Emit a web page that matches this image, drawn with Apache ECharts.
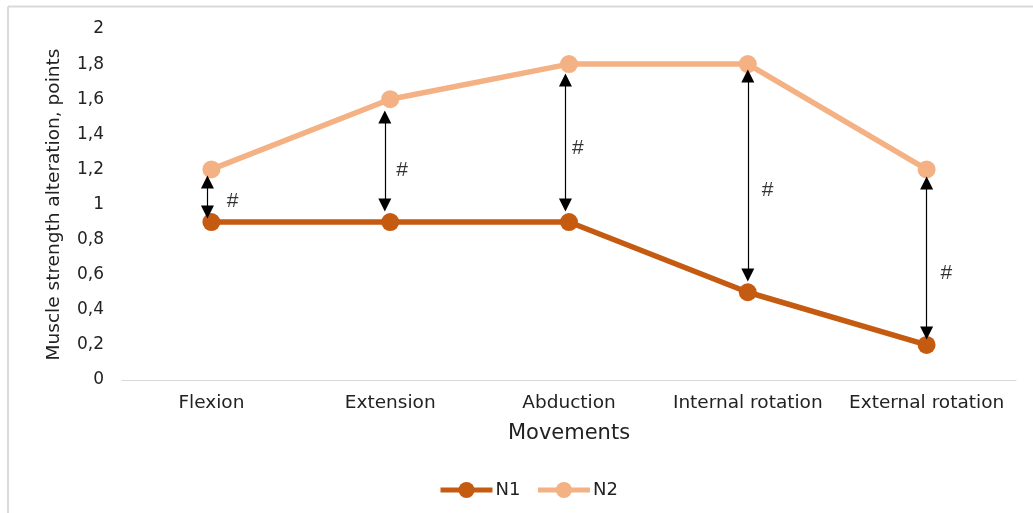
<!DOCTYPE html>
<html>
<head>
<meta charset="utf-8">
<script src="https://cdn.jsdelivr.net/npm/echarts@6/dist/echarts.min.js"></script>
<style>html,body{margin:0;padding:0;background:#fff;}#c{width:1033px;height:513px;}</style>
</head>
<body>
<div id="c"></div>
<script>
const categories = ['Flexion', 'Extension', 'Abduction', 'Internal rotation', 'External rotation'];
const n1 = [0.9, 0.9, 0.9, 0.5, 0.2];
const n2 = [1.2, 1.6, 1.8, 1.8, 1.2];
const yTicks = [0, 0.2, 0.4, 0.6, 0.8, 1, 1.2, 1.4, 1.6, 1.8, 2];
// significance arrows: [x position (category units), bottom value, top value]
const arrows = [
  [-0.022, 0.957, 1.128],
  [0.97, 0.997, 1.499],
  [1.98, 0.997, 1.709],
  [3.0, 0.598, 1.732],
  [4.0, 0.268, 1.123]
];
// "#" marks: [x (category units), y value]
const hashMarks = [
  [0.118, 1.02],
  [1.067, 1.197],
  [2.05, 1.322],
  [3.11, 1.083],
  [4.11, 0.61]
];

const font = '"DejaVu Sans", Verdana, sans-serif';
const chart = echarts.init(document.getElementById('c'));
chart.setOption({
  animation: false,
  backgroundColor: '#fff',
  graphic: [
    { type: 'line', shape: { x1: 8, y1: 6.5, x2: 1033, y2: 6.5 }, style: { stroke: '#d9d9d9', lineWidth: 2 } },
    { type: 'line', shape: { x1: 8, y1: 6.5, x2: 8, y2: 513 }, style: { stroke: '#d9d9d9', lineWidth: 2 } }
  ],
  grid: { left: 122, right: 17, top: 29, bottom: 133, containLabel: false },
  legend: {
    data: ['N1', 'N2'],
    bottom: 14,
    left: 438,
    padding: 0,
    itemWidth: 52,
    itemHeight: 20,
    itemGap: 15,
    lineStyle: { width: 5 },
    textStyle: { fontFamily: font, fontSize: 18, color: '#222', padding: [0, 0, 0, -2] }
  },
  xAxis: [
    {
      type: 'category',
      data: categories,
      boundaryGap: true,
      axisLine: { lineStyle: { color: '#d9d9d9', width: 1 } },
      axisTick: { show: false },
      axisLabel: { interval: 0, fontFamily: font, fontSize: 18.5, color: '#222', margin: 14 },
      name: 'Movements',
      nameLocation: 'middle',
      nameGap: 43,
      nameTextStyle: { fontFamily: font, fontSize: 21, color: '#222' }
    },
    {
      type: 'value',
      min: -0.5,
      max: 4.5,
      show: false
    }
  ],
  yAxis: {
    type: 'value',
    min: 0,
    max: 2,
    interval: 0.2,
    splitLine: { show: false },
    axisLine: { show: false },
    axisTick: { show: false },
    axisLabel: {
      fontFamily: font, fontSize: 17, color: '#222', margin: 18,
      formatter: v => {
        const t = yTicks.find(x => Math.abs(x - v) < 1e-6);
        return String(Math.round((t !== undefined ? t : v) * 10) / 10).replace('.', ',');
      }
    },
    name: 'Muscle strength alteration, points',
    nameLocation: 'middle',
    nameGap: 58,
    nameTextStyle: { fontFamily: font, fontSize: 18.5, color: '#222' }
  },
  series: [
    {
      name: 'N1', type: 'line', data: n1,
      symbol: 'circle', symbolSize: 18,
      lineStyle: { color: '#C55A11', width: 5.5 },
      itemStyle: { color: '#C55A11' },
      z: 3
    },
    {
      name: 'N2', type: 'line', data: n2,
      symbol: 'circle', symbolSize: 18,
      lineStyle: { color: '#F4B183', width: 5.5 },
      itemStyle: { color: '#F4B183' },
      z: 3
    },
    {
      name: 'arrows', type: 'line', xAxisIndex: 1, data: [],
      silent: true,
      markLine: {
        silent: true,
        symbol: ['triangle', 'triangle'],
        symbolSize: [13, 13],
        lineStyle: { color: '#000', width: 1.2, type: 'solid' },
        label: { show: false },
        data: arrows.map(a => [{ coord: [a[0], a[1]] }, { coord: [a[0], a[2]] }])
      }
    },
    {
      name: 'hash', type: 'scatter', xAxisIndex: 1,
      data: hashMarks,
      symbolSize: 1,
      itemStyle: { color: 'rgba(0,0,0,0)' },
      silent: true,
      label: {
        show: true, position: 'inside', formatter: '#',
        fontFamily: 'Liberation Sans, Arial, sans-serif', fontSize: 21, color: '#000'
      }
    }
  ]
});
</script>
</body>
</html>
